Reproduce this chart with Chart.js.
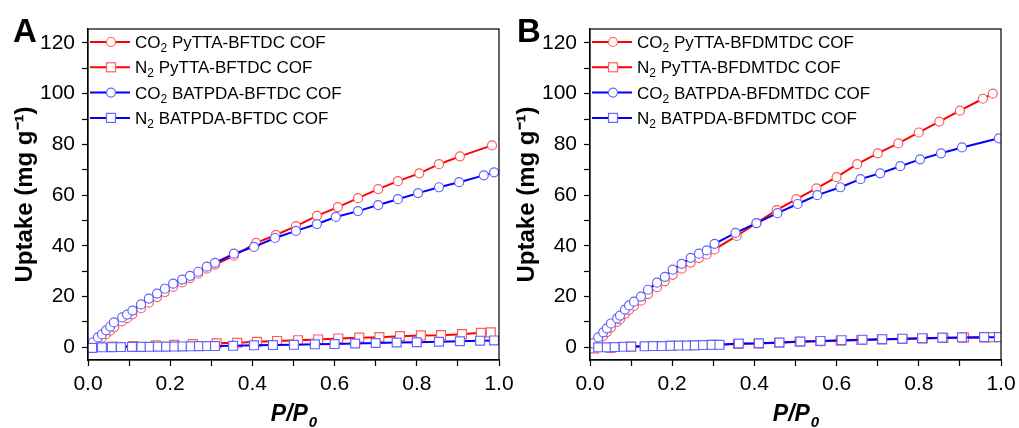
<!DOCTYPE html>
<html>
<head>
<meta charset="utf-8">
<title>CO2 / N2 uptake isotherms</title>
<script src="https://cdn.jsdelivr.net/npm/chart.js@4.4.1/dist/chart.umd.min.js"></script>
<style>
  html, body { margin: 0; padding: 0; background: #fff; overflow: hidden; }
  #wrap { position: relative; width: 1019px; height: 428px; }
  canvas { position: absolute; top: 0; }
  #isoA { left: 0; }
  #isoB { left: 502px; }
</style>
</head>
<body>
<div id="wrap">
  <canvas id="isoA" width="521" height="428"></canvas>
  <canvas id="isoB" width="521" height="428"></canvas>
</div>
<script>
/* ---------- panel A : BFTDC COFs ---------- */
const A_CO2_PY_P = [0.012, 0.024, 0.034, 0.044, 0.054, 0.064, 0.083, 0.095, 0.108, 0.129, 0.148, 0.168, 0.187, 0.207, 0.229, 0.248, 0.268, 0.289, 0.309, 0.355, 0.409, 0.457, 0.506, 0.557, 0.608, 0.657, 0.706, 0.754, 0.806, 0.854, 0.905, 0.983];
const A_CO2_PY_Q = [1.0, 2.5, 3.8, 5.2, 6.6, 8.0, 10.2, 11.5, 13.0, 15.4, 17.6, 19.8, 21.8, 23.8, 25.6, 27.3, 29.0, 31.0, 32.6, 36.1, 41.2, 44.3, 47.8, 51.8, 55.3, 58.8, 62.4, 65.5, 68.6, 72.2, 75.3, 79.6];

const A_N2_PY_P = [0.012, 0.06, 0.11, 0.165, 0.21, 0.255, 0.313, 0.363, 0.411, 0.46, 0.511, 0.56, 0.609, 0.66, 0.709, 0.759, 0.81, 0.859, 0.91, 0.956, 0.98];
const A_N2_PY_Q = [0.0, 0.3, 0.5, 0.8, 1.0, 1.3, 1.6, 1.8, 2.2, 2.5, 2.8, 3.1, 3.5, 3.8, 4.0, 4.4, 4.7, 4.8, 5.2, 5.7, 5.9];

const A_CO2_BA_P = [0.012, 0.024, 0.034, 0.044, 0.054, 0.063, 0.083, 0.095, 0.108, 0.129, 0.148, 0.168, 0.187, 0.207, 0.229, 0.248, 0.268, 0.289, 0.309, 0.355, 0.404, 0.455, 0.506, 0.557, 0.603, 0.657, 0.706, 0.754, 0.803, 0.854, 0.903, 0.963, 0.988];
const A_CO2_BA_Q = [2.0, 3.9, 5.1, 6.7, 8.2, 9.8, 11.8, 12.9, 14.5, 16.9, 19.2, 21.2, 23.1, 25.1, 26.7, 28.2, 29.8, 31.8, 33.3, 36.9, 39.6, 43.1, 45.9, 48.6, 51.4, 53.7, 56.1, 58.4, 60.8, 63.1, 65.1, 67.8, 69.0];

const A_N2_BA_P = [0.01, 0.034, 0.058, 0.08, 0.107, 0.13, 0.15, 0.17, 0.19, 0.21, 0.23, 0.25, 0.27, 0.29, 0.309, 0.353, 0.404, 0.45, 0.501, 0.552, 0.6, 0.65, 0.7, 0.751, 0.8, 0.854, 0.905, 0.954, 0.988];
const A_N2_BA_Q = [-0.2, 0.0, 0.05, 0.1, 0.15, 0.18, 0.2, 0.25, 0.28, 0.3, 0.35, 0.4, 0.45, 0.5, 0.5, 0.6, 0.8, 0.9, 1.0, 1.2, 1.3, 1.5, 1.7, 1.9, 2.0, 2.2, 2.4, 2.6, 2.7];

const A_NAMES = ['PyTTA-BFTDC COF', 'PyTTA-BFTDC COF', 'BATPDA-BFTDC COF', 'BATPDA-BFTDC COF'];

/* ---------- panel B : BFDMTDC COFs ---------- */
const B_CO2_PY_P = [0.007, 0.02, 0.032, 0.041, 0.051, 0.066, 0.073, 0.085, 0.095, 0.107, 0.124, 0.141, 0.163, 0.182, 0.201, 0.223, 0.245, 0.265, 0.284, 0.303, 0.357, 0.405, 0.454, 0.502, 0.551, 0.6, 0.65, 0.7, 0.75, 0.8, 0.85, 0.9, 0.956, 0.98];
const B_CO2_PY_Q = [0.3, 2.5, 4.5, 6.0, 7.8, 10.0, 11.0, 13.2, 14.8, 16.3, 18.4, 21.0, 23.7, 26.0, 28.6, 31.0, 33.4, 35.2, 36.6, 38.6, 43.9, 49.0, 54.1, 58.4, 62.7, 67.1, 72.2, 76.5, 80.4, 84.7, 89.0, 93.3, 98.0, 100.0];

const B_N2_PY_P = [0.01, 0.05, 0.1, 0.15, 0.2, 0.25, 0.3, 0.36, 0.41, 0.46, 0.51, 0.56, 0.61, 0.66, 0.71, 0.76, 0.81, 0.86, 0.91, 0.96, 0.98];
const B_N2_PY_Q = [-0.4, -0.2, 0.2, 0.5, 0.6, 0.8, 1.0, 1.3, 1.5, 1.8, 2.2, 2.4, 2.6, 2.9, 3.1, 3.3, 3.5, 3.7, 3.8, 3.9, 4.0];

const B_CO2_BA_P = [0.007, 0.02, 0.032, 0.041, 0.051, 0.066, 0.073, 0.085, 0.095, 0.107, 0.124, 0.141, 0.163, 0.182, 0.201, 0.223, 0.245, 0.265, 0.284, 0.303, 0.354, 0.405, 0.456, 0.505, 0.553, 0.609, 0.658, 0.706, 0.755, 0.803, 0.854, 0.905, 0.995];
const B_CO2_BA_Q = [1.6, 3.9, 5.9, 7.5, 9.4, 11.4, 12.5, 14.9, 16.5, 18.0, 20.0, 22.7, 25.5, 27.8, 30.6, 32.9, 35.3, 36.9, 38.2, 40.8, 45.1, 49.0, 52.9, 56.5, 60.0, 63.1, 66.3, 68.6, 71.4, 74.1, 76.5, 78.8, 82.4];

const B_N2_BA_P = [0.02, 0.041, 0.06, 0.082, 0.1, 0.133, 0.153, 0.175, 0.196, 0.216, 0.236, 0.255, 0.275, 0.296, 0.315, 0.362, 0.411, 0.461, 0.512, 0.561, 0.612, 0.663, 0.711, 0.76, 0.808, 0.857, 0.905, 0.959, 0.995];
const B_N2_BA_Q = [0.0, 0.0, 0.1, 0.2, 0.3, 0.4, 0.5, 0.5, 0.6, 0.7, 0.7, 0.8, 0.9, 1.0, 1.0, 1.5, 1.6, 1.9, 2.3, 2.5, 2.8, 3.0, 3.2, 3.4, 3.6, 3.8, 3.9, 4.0, 4.0];

const B_NAMES = ['PyTTA-BFDMTDC COF', 'PyTTA-BFDMTDC COF', 'BATPDA-BFDMTDC COF', 'BATPDA-BFDMTDC COF'];

const GASES = [['CO', '2'], ['N', '2'], ['CO', '2'], ['N', '2']];

const RED = '#ff0000', RED_MK = '#ff5c5c';
const BLUE = '#0000ff', BLUE_MK = '#6464ff';
const FONT = '"Liberation Sans", Arial, Helvetica, sans-serif';

// order: lower number is painted last, so the blue series sit on top
function series(P, Q, line, mark, shape, order) {
  return {
    data: P.map((p, i) => ({ x: p, y: Q[i] })),
    order,
    borderColor: line,
    borderWidth: 2,
    pointStyle: shape,
    pointRadius: shape === 'rect' ? 6.3 : 4.5,
    pointBorderColor: mark,
    pointBackgroundColor: '#fff',
    pointBorderWidth: 1.2,
    tension: 0,
    fill: false,
  };
}

/* box around the plot, legend with subscripts, panel letter, P/P0 title */
const decor = {
  id: 'decor',
  afterDraw(chart, args, opts) {
    const { ctx, chartArea: a } = chart;
    ctx.save();
    ctx.strokeStyle = '#000';
    ctx.lineWidth = 1.2;
    ctx.strokeRect(a.left, a.top, a.right - a.left, a.bottom - a.top);

    ctx.fillStyle = '#000';
    ctx.textAlign = 'left';
    ctx.textBaseline = 'alphabetic';
    ctx.font = 'bold 33px ' + FONT;
    ctx.fillText(opts.letter, opts.letterX, 42);

    // x title: italic P/P with subscript 0
    const big = 'italic bold 23px ' + FONT, small = 'italic bold 15px ' + FONT;
    ctx.font = big;
    const w1 = ctx.measureText('P/P').width;
    ctx.font = small;
    const w2 = ctx.measureText('0').width;
    const x0 = (a.left + a.right) / 2 - (w1 + w2) / 2;
    ctx.font = big;
    ctx.fillText('P/P', x0, 421);
    ctx.font = small;
    ctx.fillText('0', x0 + w1 + 1, 427);

    // legend
    chart.data.datasets.forEach((ds, i) => {
      const y = a.top + 13 + i * 25.3;
      ctx.strokeStyle = ds.borderColor;
      ctx.lineWidth = 2;
      ctx.beginPath();
      ctx.moveTo(a.left + 2, y);
      ctx.lineTo(a.left + 42, y);
      ctx.stroke();
      ctx.fillStyle = '#fff';
      ctx.strokeStyle = ds.pointBorderColor;
      ctx.lineWidth = 1.2;
      const mx = a.left + 23;
      if (ds.pointStyle === 'rect') {
        ctx.fillRect(mx - 4.5, y - 4.5, 9, 9);
        ctx.strokeRect(mx - 4.5, y - 4.5, 9, 9);
      } else {
        ctx.beginPath();
        ctx.arc(mx, y, 4.5, 0, Math.PI * 2);
        ctx.fill();
        ctx.stroke();
      }
      ctx.fillStyle = '#000';
      ctx.textBaseline = 'alphabetic';
      const [gas, sub] = GASES[i];
      let tx = a.left + 47;
      const base = y + 6;
      ctx.font = '17px ' + FONT;
      ctx.fillText(gas, tx, base);
      tx += ctx.measureText(gas).width;
      ctx.font = '12px ' + FONT;
      ctx.fillText(sub, tx, base + 4);
      tx += ctx.measureText(sub).width;
      ctx.font = '17px ' + FONT;
      ctx.fillText(' ' + opts.names[i], tx, base);
    });
    ctx.restore();
  }
};

function buildPanel(id, letter, letterX, names, sets) {
  new Chart(document.getElementById(id), {
    type: 'line',
    data: { datasets: sets },
    plugins: [decor],
    options: {
      responsive: false,
      animation: false,
      devicePixelRatio: 1,
      layout: { padding: { left: 0, top: 29, right: 22, bottom: 0 } },
      plugins: {
        legend: { display: false },
        tooltip: { enabled: false },
        decor: { letter, letterX, names },
      },
      scales: {
        x: {
          type: 'linear',
          min: 0,
          max: 1,
          afterFit: s => { s.height = 68; },
          border: { display: true, color: '#000', width: 1.2 },
          grid: { drawOnChartArea: false, tickLength: 6, tickColor: '#000', tickWidth: 1.2 },
          ticks: {
            stepSize: 0.1,
            autoSkip: false,
            maxRotation: 0,
            padding: 6,
            color: '#000',
            font: { family: FONT, size: 21 },
            callback: v => (Math.round(v * 10) % 2 === 0 ? v.toFixed(1) : ''),
          },
        },
        y: {
          type: 'linear',
          min: -5,
          max: 125.5,
          afterFit: s => { s.width = 88; },
          border: { display: true, color: '#000', width: 1.2 },
          grid: {
            drawOnChartArea: false,
            tickLength: 6,
            tickWidth: 1.2,
            tickColor: c => (c.tick && c.tick.value % 10 === 0 ? '#000' : 'rgba(0,0,0,0)'),
          },
          title: {
            display: true,
            text: 'Uptake (mg g⁻¹)',
            color: '#000',
            font: { family: FONT, size: 24, weight: 'bold' },
            padding: { top: 11, bottom: 0 },
          },
          ticks: {
            stepSize: 10,
            includeBounds: false,
            autoSkip: false,
            padding: 7,
            color: '#000',
            font: { family: FONT, size: 21 },
            callback: v => (v % 20 === 0 ? String(v) : ''),
          },
        },
      },
    },
  });
}

buildPanel('isoA', 'A', 13, A_NAMES, [
  series(A_CO2_PY_P, A_CO2_PY_Q, RED, RED_MK, 'circle', 3),
  series(A_N2_PY_P, A_N2_PY_Q, RED, RED_MK, 'rect', 2),
  series(A_CO2_BA_P, A_CO2_BA_Q, BLUE, BLUE_MK, 'circle', 1),
  series(A_N2_BA_P, A_N2_BA_Q, BLUE, BLUE_MK, 'rect', 0),
]);

buildPanel('isoB', 'B', 15, B_NAMES, [
  series(B_CO2_PY_P, B_CO2_PY_Q, RED, RED_MK, 'circle', 3),
  series(B_N2_PY_P, B_N2_PY_Q, RED, RED_MK, 'rect', 2),
  series(B_CO2_BA_P, B_CO2_BA_Q, BLUE, BLUE_MK, 'circle', 1),
  series(B_N2_BA_P, B_N2_BA_Q, BLUE, BLUE_MK, 'rect', 0),
]);
</script>
</body>
</html>
